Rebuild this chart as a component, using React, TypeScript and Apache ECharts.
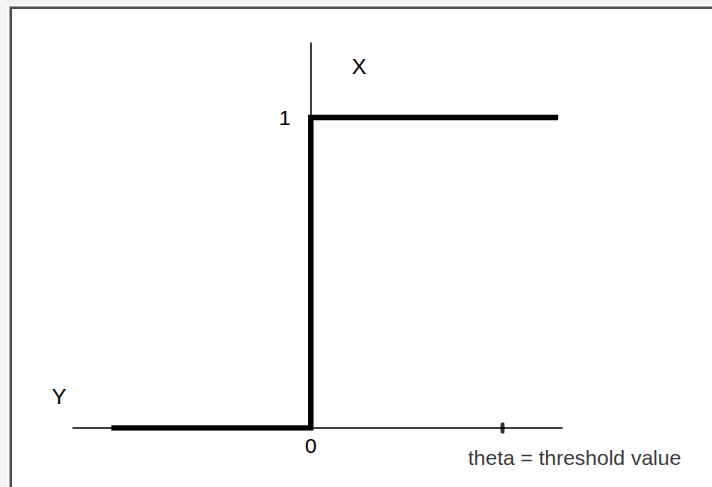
import React, { useEffect, useRef } from "react";
import * as echarts from "echarts";

// Step (threshold) activation: output jumps from 0 to 1 at x = 0
const stepX = [-1.04, 0, 0, 1.29];
const stepY = [0, 0, 1, 1];
// marked position on the horizontal axis
const thetaX = [1];
const thetaY = [0];
const thetaLabel = "theta = threshold value";
// labelled values on each axis
const xLabelValues = [0];
const yLabelValues = [1];
const verticalName = "X";
const horizontalName = "Y";

const GRID_LEFT = 73;

export default function App() {
  const ref = useRef<HTMLDivElement>(null);

  useEffect(() => {
    if (!ref.current) return;
    const chart = echarts.init(ref.current, undefined, { renderer: "svg" });
    const font = "Liberation Sans, Arial, sans-serif";
    chart.setOption({
      animation: false,
      backgroundColor: "#ffffff",
      grid: { left: GRID_LEFT, right: 150, top: 43, bottom: 59, containLabel: false },
      xAxis: {
        type: "value",
        min: -1.24,
        max: 1.31,
        axisLine: { show: true, onZero: true, lineStyle: { color: "#000", width: 1.5 } },
        axisTick: { show: false },
        splitLine: { show: false },
        axisLabel: {
          customValues: xLabelValues,
          formatter: (v: number) => String(v),
          margin: 7,
          color: "#000",
          fontSize: 21,
          fontFamily: font,
        },
      },
      yAxis: {
        type: "value",
        min: 0,
        max: 1.24,
        axisLine: { show: true, onZero: false, lineStyle: { color: "#000", width: 1.5 } },
        axisTick: { show: false },
        splitLine: { show: false },
        axisLabel: {
          customValues: yLabelValues,
          formatter: (v: number) => String(v),
          margin: 20,
          color: "#000",
          fontSize: 21,
          fontFamily: font,
        },
      },
      series: [
        {
          type: "line",
          data: stepX.map((x, i) => [x, stepY[i]]),
          showSymbol: false,
          lineStyle: { color: "#000", width: 5.5, cap: "butt", join: "miter" },
          z: 3,
        },
        {
          type: "scatter",
          data: thetaX.map((x, i) => [x, thetaY[i]]),
          symbol: "roundRect",
          symbolSize: [4, 11],
          itemStyle: { color: "#000" },
          label: {
            show: true,
            position: "inside",
            offset: [72, 29],
            formatter: thetaLabel,
            color: "#000",
            fontSize: 21,
            fontFamily: font,
          },
          z: 4,
        },
      ],
      graphic: [
        // window frame
        { type: "rect", shape: { x: 0, y: 0, width: 712, height: 5 }, style: { fill: "#f3f3f3" }, silent: true },
        { type: "rect", shape: { x: 0, y: 0, width: 7, height: 487 }, style: { fill: "#f3f3f3" }, silent: true },
        { type: "rect", shape: { x: 9, y: 6, width: 703, height: 1 }, style: { fill: "#a0a0a0" }, silent: true },
        { type: "rect", shape: { x: 9, y: 6, width: 1, height: 481 }, style: { fill: "#a0a0a0" }, silent: true },
        { type: "rect", shape: { x: 10, y: 7, width: 702, height: 2 }, style: { fill: "#505050" }, silent: true },
        { type: "rect", shape: { x: 10, y: 7, width: 2, height: 480 }, style: { fill: "#505050" }, silent: true },
        {
          type: "text",
          x: 359,
          y: 66,
          style: { text: verticalName, fill: "#000", font: `22px ${font}`, textAlign: "center", textVerticalAlign: "middle" },
        },
        {
          type: "text",
          x: 59,
          y: 396,
          style: { text: horizontalName, fill: "#000", font: `22px ${font}`, textAlign: "center", textVerticalAlign: "middle" },
        },
      ],
    });
    // place the vertical axis (line and its labels) through x = 0
    const zeroPx = chart.convertToPixel({ xAxisIndex: 0 }, 0) as number;
    chart.setOption({ yAxis: { offset: GRID_LEFT - zeroPx } });
    return () => chart.dispose();
  }, []);

  return (
    <div
      ref={ref}
      style={{ position: "absolute", left: 0, top: 0, width: 712, height: 487, background: "#fff" }}
    />
  );
}
